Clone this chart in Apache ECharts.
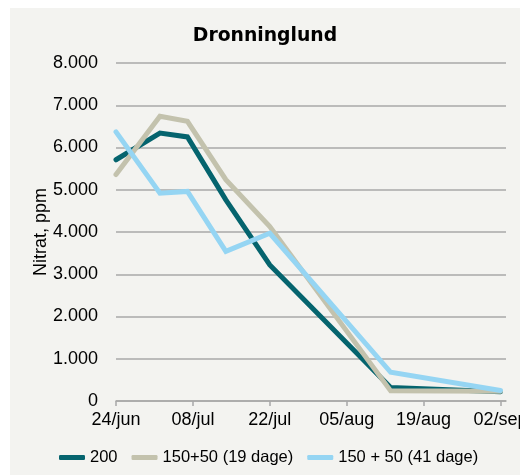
<!DOCTYPE html>
<html>
<head>
<meta charset="utf-8">
<script src="https://cdn.jsdelivr.net/npm/echarts@6/dist/echarts.min.js"></script>
<style>
  html, body { margin: 0; padding: 0; background: #ffffff; }
  #chart {
    position: absolute;
    left: 10px;
    top: 8px;
    width: 510px;
    height: 467px;
    background: #f3f3f0;
  }
</style>
</head>
<body>
<div id="chart"></div>
<script>
// maaledatoer (samme for alle tre behandlinger)
const datoer = ['2015-06-24', '2015-07-02', '2015-07-07', '2015-07-14', '2015-07-22', '2015-08-13', '2015-09-02']

const serieNavne = ['200', '150+50 (19 dage)', '150 + 50 (41 dage)']
const n200 = [5710, 6340, 6250, 4760, 3220, 320, 220]
const n150_19 = [5360, 6740, 6620, 5240, 4130, 240, 230]
const n150_41 = [6370, 4920, 4960, 3540, 3970, 680, 250]

// akse-etiketter paa x-aksen
const tickDatoer = ['2015-06-24', '2015-07-08', '2015-07-22', '2015-08-05', '2015-08-19', '2015-09-02']
const startDato = '2015-06-24'
const slutDato = '2015-09-03'

const maaneder = ['jan', 'feb', 'mar', 'apr', 'maj', 'jun', 'jul', 'aug', 'sep', 'okt', 'nov', 'dec']
const farver = ['#05646e', '#c3c2ad', '#95d5f3']

const DAG = 24 * 3600 * 1000

function toTime(s) {
  const p = s.split('-')
  return Date.UTC(+p[0], +p[1] - 1, +p[2])
}

// dage efter startdato
function dagNr(s) {
  return Math.round((toTime(s) - toTime(startDato)) / DAG)
}

function datoTekst(v) {
  const d = new Date(toTime(startDato) + v * DAG)
  const dag = String(d.getUTCDate()).padStart(2, '0')
  return dag + '/' + maaneder[d.getUTCMonth()]
}

function tusind(v) {
  if (v === 0) return '0'
  return Math.floor(v / 1000) + '.' + String(v % 1000).padStart(3, '0')
}

const chart = echarts.init(document.getElementById('chart'), null, { renderer: 'canvas' })

const serieData = [n200, n150_19, n150_41]
const tickDage = tickDatoer.map(dagNr)

const option = {
  animation: false,
  color: farver,
  title: {
    text: 'Dronninglund',
    left: 'center',
    top: 14,
    textStyle: {
      fontFamily: 'DejaVu Sans',
      fontSize: 18.8,
      fontWeight: 'bold',
      color: '#000'
    }
  },
  legend: {
    data: serieNavne,
    left: 49,
    top: 441,
    padding: 0,
    itemWidth: 26,
    itemHeight: 5,
    itemGap: 14,
    icon: 'roundRect',
    textStyle: {
      fontFamily: 'Liberation Sans',
      fontSize: 16.5,
      color: '#000'
    }
  },
  grid: {
    left: 106,
    top: 55,
    right: 14,
    bottom: 74,
    outerBoundsMode: 'none'
  },
  xAxis: {
    type: 'value',
    min: 0,
    max: dagNr(slutDato),
    axisLine: {
      show: true,
      lineStyle: { color: '#a8a8a8', width: 1.5 }
    },
    axisTick: {
      show: true,
      length: 5,
      customValues: tickDage,
      lineStyle: { color: '#a8a8a8', width: 1.5 }
    },
    axisLabel: {
      customValues: tickDage,
      formatter: datoTekst,
      margin: 10,
      fontFamily: 'Liberation Sans',
      fontSize: 18,
      color: '#000'
    },
    splitLine: { show: false }
  },
  yAxis: {
    type: 'value',
    min: 0,
    max: 8000,
    interval: 1000,
    name: 'Nitrat, ppm',
    nameLocation: 'middle',
    nameGap: 66,
    nameMoveOverlap: false,
    nameTextStyle: {
      fontFamily: 'Liberation Sans',
      fontSize: 18,
      color: '#000'
    },
    axisLine: { show: false },
    axisTick: { show: false },
    axisLabel: {
      formatter: tusind,
      margin: 18,
      fontFamily: 'Liberation Sans',
      fontSize: 18,
      color: '#000'
    },
    splitLine: {
      lineStyle: { color: '#a8a8a8', width: 1.5 }
    }
  },
  series: serieNavne.map((navn, i) => ({
    name: navn,
    type: 'line',
    data: datoer.map((d, j) => [dagNr(d), serieData[i][j]]),
    symbol: 'none',
    lineStyle: {
      color: farver[i],
      width: 5,
      cap: 'round',
      join: 'miter'
    },
    itemStyle: { color: farver[i] }
  }))
}

chart.setOption(option)
</script>
</body>
</html>
